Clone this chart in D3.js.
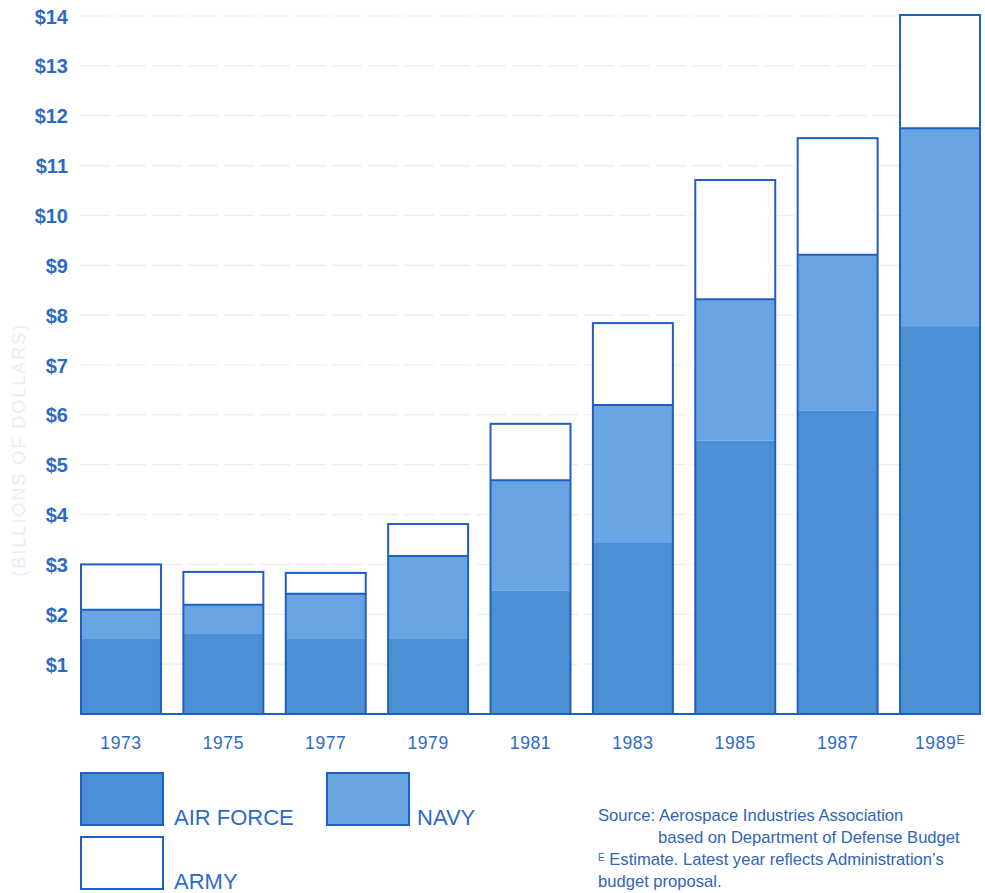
<!DOCTYPE html>
<html>
<head>
<meta charset="utf-8">
<script src="https://cdn.jsdelivr.net/npm/d3@7"></script>
<style>
  html, body { margin: 0; padding: 0; background: #fff; }
  svg { display: block; }
</style>
</head>
<body>
<svg id="chart" width="985" height="893"></svg>
<script>
// Defense aerospace spending by service, billions of dollars
const years = ["1973", "1975", "1977", "1979", "1981", "1983", "1985", "1987", "1989"];
const airForce = [1.52, 1.62, 1.52, 1.52, 2.47, 3.43, 5.48, 6.08, 7.78];
const navy     = [0.57, 0.57, 0.89, 1.65, 2.22, 2.77, 2.84, 3.13, 3.97];
const army     = [0.91, 0.66, 0.42, 0.64, 1.13, 1.64, 2.39, 2.34, 2.27];
const yTicks   = [1, 2, 3, 4, 5, 6, 7, 8, 9, 10, 11, 12, 13, 14];
const seriesNames = ["AIR FORCE", "NAVY", "ARMY"];

const ink = "#1f5fc4";
const textBlue = "#2d6ac6";
const font = "Liberation Sans, Arial, sans-serif";
const colors = { "AIR FORCE": "#4b8fd5", "NAVY": "#67a4e1", "ARMY": "#ffffff" };

const svg = d3.select("#chart");

const x = d3.scaleBand().domain(years)
  .range([81, 980]).paddingInner(0.219).paddingOuter(0);
const y = d3.scaleLinear().domain([0, 14]).range([714, 16]);

// gridlines
svg.append("g")
  .selectAll("line").data(yTicks).join("line")
  .attr("x1", 80).attr("x2", 980)
  .attr("y1", d => y(d)).attr("y2", d => y(d))
  .attr("stroke", "#e8eef6").attr("stroke-width", 1.2)
  .attr("stroke-dasharray", "30,6");

// y axis labels
const yAxis = d3.axisLeft(y).tickValues(yTicks).tickSize(0).tickFormat(d => "$" + d);
const gy = svg.append("g").attr("transform", "translate(68,0)").call(yAxis);
gy.select(".domain").remove();
gy.selectAll("text")
  .attr("fill", textBlue).attr("font-family", font)
  .attr("font-size", 20).attr("font-weight", 700).attr("dy", "0.35em").attr("x", 0);

// faint axis title
svg.append("text")
  .attr("transform", `translate(25,${y(5.3)}) rotate(-90)`)
  .attr("text-anchor", "middle")
  .attr("fill", "#e6eef8")
  .attr("font-family", font)
  .attr("font-size", 18)
  .attr("letter-spacing", 2)
  .text("(BILLIONS OF DOLLARS)");

// stacked data
const table = years.map((yr, i) => ({ year: yr, "AIR FORCE": airForce[i], "NAVY": navy[i], "ARMY": army[i] }));
const stack = d3.stack().keys(seriesNames)(table);

// baseline
svg.append("line")
  .attr("x1", x(years[0])).attr("x2", x(years[years.length - 1]) + x.bandwidth())
  .attr("y1", y(0)).attr("y2", y(0))
  .attr("stroke", ink).attr("stroke-width", 2);

const barG = svg.append("g");
stack.forEach(layer => {
  barG.append("g").selectAll("rect").data(layer).join("rect")
    .attr("x", d => x(d.data.year))
    .attr("width", x.bandwidth())
    .attr("y", d => y(d[1]))
    .attr("height", d => y(d[0]) - y(d[1]))
    .attr("fill", colors[layer.key]);
});

// navy/army divider
barG.append("g").selectAll("line").data(stack[1]).join("line")
  .attr("x1", d => x(d.data.year)).attr("x2", d => x(d.data.year) + x.bandwidth())
  .attr("y1", d => y(d[1])).attr("y2", d => y(d[1]))
  .attr("stroke", ink).attr("stroke-width", 2);

// outline of each full stack
barG.append("g").selectAll("rect").data(stack[2]).join("rect")
  .attr("x", d => x(d.data.year))
  .attr("width", x.bandwidth())
  .attr("y", d => y(d[1]))
  .attr("height", d => y(0) - y(d[1]))
  .attr("fill", "none").attr("stroke", ink).attr("stroke-width", 2);

// x axis labels
const xl = svg.append("g").selectAll("text").data(years).join("text")
  .attr("x", d => x(d) + x.bandwidth() / 2)
  .attr("y", 749)
  .attr("text-anchor", "middle")
  .attr("fill", textBlue)
  .attr("font-family", font)
  .attr("font-size", 17.5)
  .attr("letter-spacing", 0.6);
xl.append("tspan").text(d => d);
xl.filter((d, i) => i === years.length - 1)
  .append("tspan").attr("font-size", 12).attr("dy", -5).text("E");

// legend
const legendItems = [
  { key: "AIR FORCE", bx: 81, by: 773, tx: 174, ty: 825 },
  { key: "NAVY", bx: 327, by: 773, tx: 417, ty: 825 },
  { key: "ARMY", bx: 81, by: 837, tx: 174, ty: 889 }
];
const lg = svg.append("g").selectAll("g").data(legendItems).join("g");
lg.append("rect")
  .attr("x", d => d.bx).attr("y", d => d.by)
  .attr("width", 82).attr("height", 52)
  .attr("fill", d => colors[d.key])
  .attr("stroke", ink).attr("stroke-width", 2);
lg.append("text")
  .attr("x", d => d.tx).attr("y", d => d.ty)
  .attr("fill", textBlue)
  .attr("font-family", font)
  .attr("font-size", 22)
  .text(d => d.key);

// source note
const note = svg.append("g")
  .attr("fill", "#2f64b8")
  .attr("font-family", font)
  .attr("font-size", 16.6);
note.append("text").attr("x", 598).attr("y", 821).text("Source: Aerospace Industries Association");
note.append("text").attr("x", 658).attr("y", 843).text("based on Department of Defense Budget");
const eLine = note.append("text").attr("x", 598).attr("y", 865);
eLine.append("tspan").attr("font-size", 10).attr("dy", -4).text("E");
eLine.append("tspan").attr("dy", 4).text(" Estimate. Latest year reflects Administration\u2019s");
note.append("text").attr("x", 598).attr("y", 887).text("budget proposal.");
</script>
</body>
</html>
